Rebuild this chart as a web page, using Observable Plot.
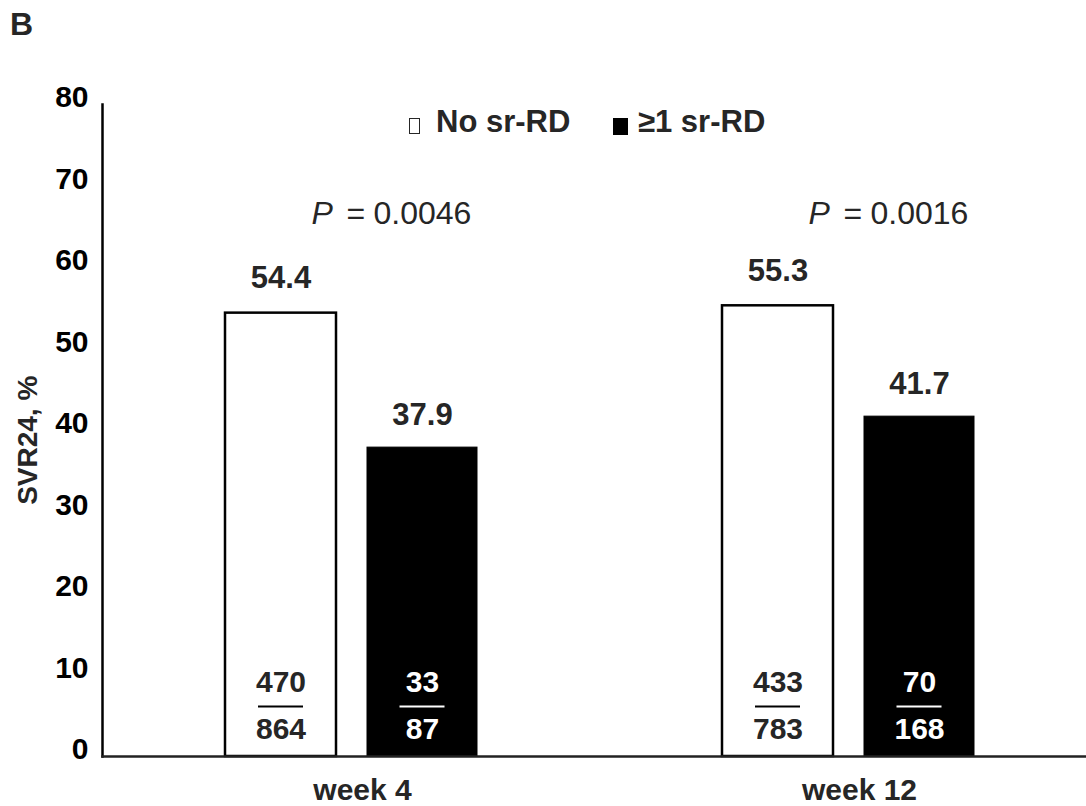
<!DOCTYPE html>
<html>
<head>
<meta charset="utf-8">
<script src="https://cdn.jsdelivr.net/npm/d3@7"></script>
<script src="https://cdn.jsdelivr.net/npm/@observablehq/plot@0.6"></script>
<style>
  html, body { margin: 0; padding: 0; background: white; }
  #wrap { position: relative; width: 1086px; height: 806px; font-family: Arial, "Liberation Sans", sans-serif; }
  #panel { position: absolute; left: 10px; top: 5px; font-size: 32px; font-weight: bold; color: #262626; line-height: 38px; }
  .leg { position: absolute; top: 104px; font-size: 31px; line-height: 36px; font-weight: bold; color: #262626; white-space: nowrap; }
  .sw { position: absolute; }
</style>
</head>
<body>
<div id="wrap">
  <div id="chart"></div>
  <div id="panel">B</div>
  <div class="sw" style="left:409px; top:118px; width:9px; height:14px; border:1.5px solid #262626; background:white;"></div>
  <div class="leg" style="left:436px;">No sr-RD</div>
  <div class="sw" style="left:613px; top:118px; width:15px; height:17px; background:black;"></div>
  <div class="leg" style="left:638px;">≥1 sr-RD</div>
</div>
<script>
const weeks = ["week 4", "week 12"];
const groups = ["No sr-RD", "≥1 sr-RD"];
const noValues = [54.4, 55.3];
const oneValues = [37.9, 41.7];
const noNumer = [470, 433];
const noDenom = [864, 783];
const oneNumer = [33, 70];
const oneDenom = [87, 168];
const pValues = ["0.0046", "0.0016"];
const yTicks = [0, 10, 20, 30, 40, 50, 60, 70, 80];
const yLabel = "SVR24, %";

const noRows = weeks.map((w, i) => ({week: w, group: groups[0], value: noValues[i], num: noNumer[i], den: noDenom[i]}));
const oneRows = weeks.map((w, i) => ({week: w, group: groups[1], value: oneValues[i], num: oneNumer[i], den: oneDenom[i]}));
const pRows = weeks.map((w, i) => ({week: w, p: pValues[i]}));

const font = 'Arial, "Liberation Sans", sans-serif';
const ink = "#262626";

const chart = Plot.plot({
  width: 1086,
  height: 806,
  marginLeft: 102,
  marginRight: 0,
  marginTop: 104,
  marginBottom: 50,
  style: {fontFamily: font, background: "white", overflow: "visible"},
  x: {domain: weeks, paddingInner: 0.492, paddingOuter: 0.234, align: 0.524},
  y: {domain: [0, 80]},
  marks: [
    Plot.barY(noRows, {x: "week", y: "value", fill: "white", stroke: "black", strokeWidth: 2.5, insetRight: 141}),
    Plot.barY(oneRows, {x: "week", y: "value", fill: "black", stroke: "black", strokeWidth: 1, insetLeft: 142}),
    Plot.frame({anchor: "left", stroke: "black", strokeWidth: 2.5}),
    Plot.frame({anchor: "bottom", stroke: "#222", strokeWidth: 2.5}),
    Plot.axisY({ticks: yTicks, tickSize: 0, tickPadding: 14, fontSize: 30, fontWeight: "bold", fill: "black", dy: -7, label: null}),
    Plot.axisX({tickSize: 0, tickPadding: 22, fontSize: 30, fontWeight: "bold", fill: ink, dx: 11, label: null}),
    Plot.text([yLabel], {frameAnchor: "left", y: () => 38.8, rotate: -90, dx: -74, textAnchor: "middle", fontSize: 28, fontWeight: "bold", fill: ink}),
    // value labels
    Plot.text(noRows, {x: "week", y: "value", text: d => d.value.toFixed(1), dx: -70.5, dy: -35, fontSize: 31, fontWeight: "bold", fill: ink}),
    Plot.text(oneRows, {x: "week", y: "value", text: d => d.value.toFixed(1), dx: 71, dy: -33, fontSize: 31, fontWeight: "bold", fill: ink}),
    // fractions
    Plot.text(noRows, {x: "week", y: () => 0, text: "num", dx: -70.5, dy: -74, fontSize: 30, fontWeight: "bold", fill: ink}),
    Plot.text(noRows, {x: "week", y: () => 0, text: "den", dx: -70.5, dy: -27, fontSize: 30, fontWeight: "bold", fill: ink}),
    Plot.tickY(noRows, {x: "week", y: () => 0, dy: -50, insetLeft: 33, insetRight: 174, stroke: "black", strokeWidth: 2}),
    Plot.text(oneRows, {x: "week", y: () => 0, text: "num", dx: 71, dy: -74, fontSize: 30, fontWeight: "bold", fill: "white"}),
    Plot.text(oneRows, {x: "week", y: () => 0, text: "den", dx: 71, dy: -27, fontSize: 30, fontWeight: "bold", fill: "white"}),
    Plot.tickY(oneRows, {x: "week", y: () => 0, dy: -50, insetLeft: 174.5, insetRight: 32.5, stroke: "white", strokeWidth: 2}),
    // P values
    Plot.text(pRows, {x: "week", y: () => 66.6, text: () => "P", textAnchor: "start", dx: -40, fontSize: 32, fontStyle: "italic", fill: ink}),
    Plot.text(pRows, {x: "week", y: () => 66.6, text: () => "=", textAnchor: "start", dx: -5, fontSize: 32, fill: ink}),
    Plot.text(pRows, {x: "week", y: () => 66.6, text: "p", textAnchor: "start", dx: 22, fontSize: 32, fill: ink})
  ]
});
document.getElementById("chart").appendChild(chart);
</script>
</body>
</html>
